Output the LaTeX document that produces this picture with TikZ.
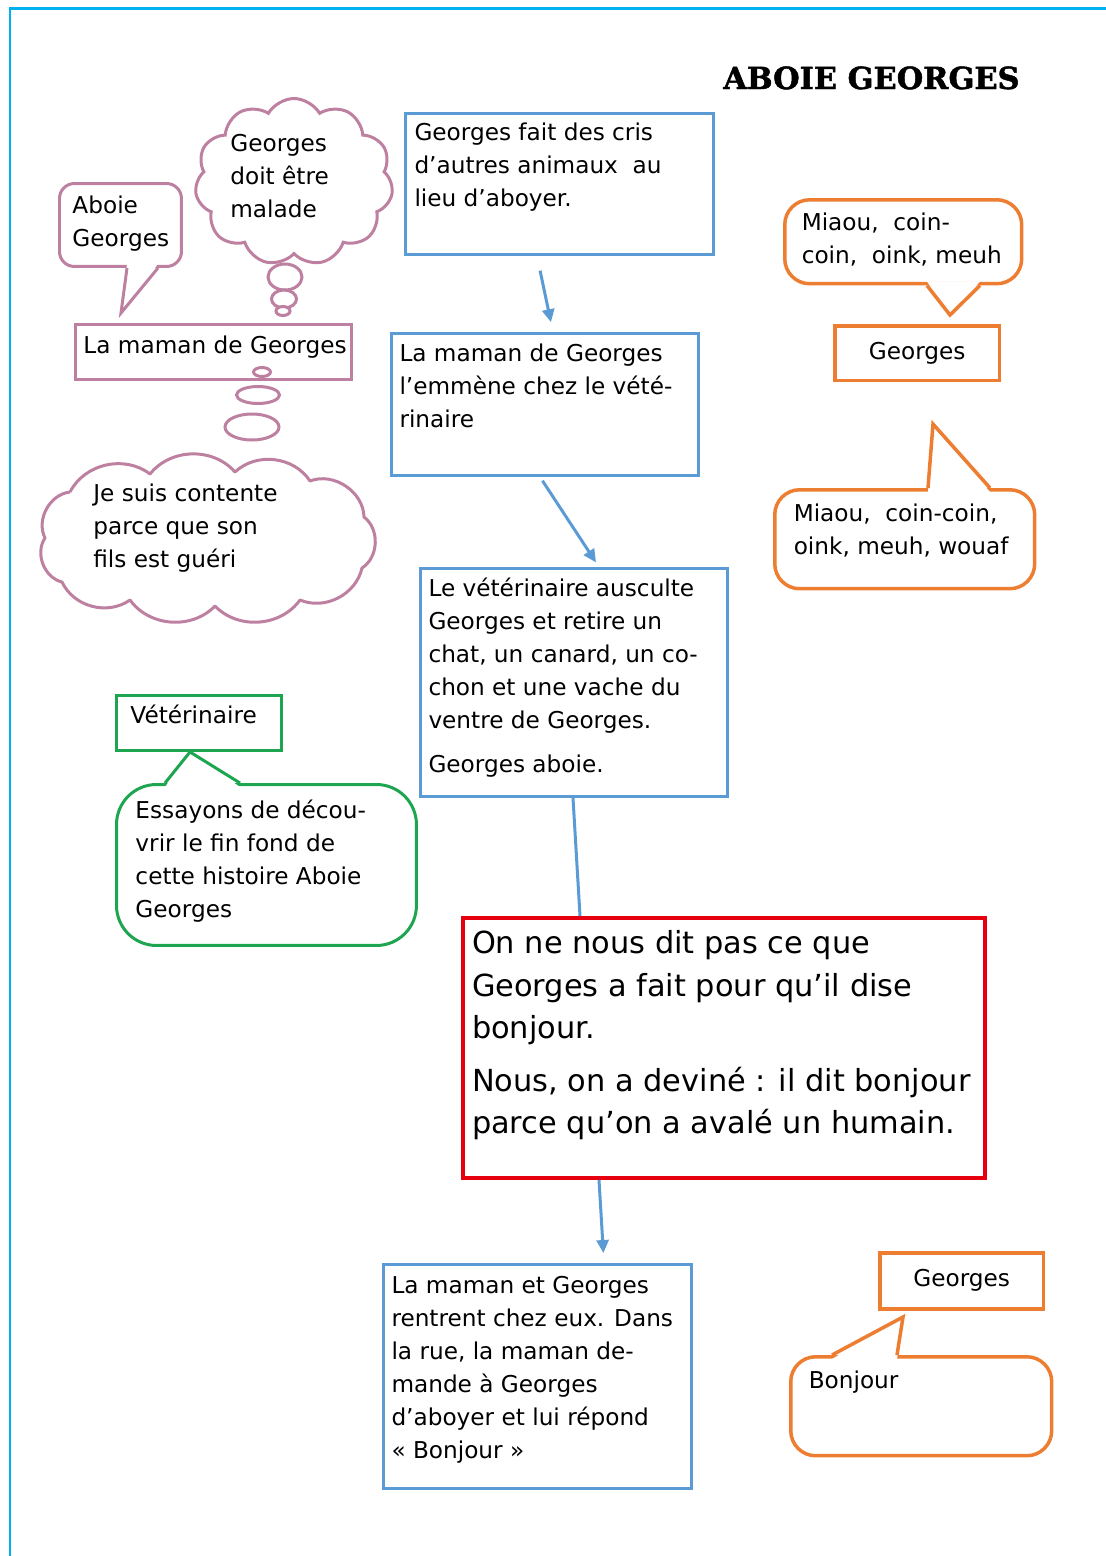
\documentclass[tikz,border=0pt]{standalone}
\usepackage{fontspec}
\setmainfont{DejaVu Sans}
\newfontfamily\titlefont[FakeBold=1.6]{DejaVu Serif Bold}
\usetikzlibrary{arrows.meta,calc,shapes.symbols}

\definecolor{pageframe}{RGB}{0,176,240}
\definecolor{stepblue}{RGB}{91,155,213}
\definecolor{ideared}{RGB}{230,0,15}
\definecolor{mumpink}{RGB}{190,128,160}
\definecolor{vetgreen}{RGB}{30,165,80}
\definecolor{dogorange}{RGB}{237,125,49}

\newcommand{\storysize}{\fontsize{13.2pt}{18.8pt}\selectfont}
\newcommand{\ideasize}{\fontsize{17.3pt}{24.2pt}\selectfont}
% box width, box height, left gap, top gap, lines
\newcommand{\topbox}[5]{\parbox[c][#2][t]{#1}{\vspace*{#4}\hspace*{#3}\begin{tabular}[t]{@{}l@{}}#5\end{tabular}}}

\tikzset{
  panel/.style={anchor=north west, inner sep=0pt, font=\storysize},
  stepbox/.style={panel, draw=stepblue, line width=0.06cm},
  ideabox/.style={panel, draw=ideared, line width=0.08cm, font=\ideasize},
  mumbox/.style={panel, draw=mumpink, line width=0.06cm},
  vetbox/.style={panel, draw=vetgreen, line width=0.06cm},
  dogbox/.style={panel, draw=dogorange, line width=0.07cm},
  dogname/.style={dogbox, minimum width=3.3cm, minimum height=1.1cm},
  mumcloud/.style={cloud, draw=mumpink, line width=0.06cm, cloud ignores aspect, inner sep=0pt},
  mumline/.style={draw=mumpink, line width=0.06cm},
  puff/.style={mumline, fill=white},
  steparrow/.style={draw=stepblue, line width=0.06cm, -{Triangle[length=0.26cm,width=0.24cm]}},
}

\begin{document}
\begin{tikzpicture}[x=0.02cm, y=-0.02cm]
\useasboundingbox (0,0) rectangle (1106,1556);
\draw[pageframe, line width=0.06cm] (10,1600) -- (10,8) -- (1150,8);

\node[anchor=base west, inner sep=0pt, font=\titlefont\fontsize{17.3pt}{20pt}\selectfont] (titre) at (723,89) {ABOIE GEORGES};

% story steps
\node[stepbox] (cris) at (404,112) {\topbox{6.16cm}{2.82cm}{0.18cm}{0.08cm}{Georges fait des cris\\ d’autres animaux~~au\\ lieu d’aboyer.}};
\node[stepbox] (veto) at (390,332) {\topbox{6.14cm}{2.84cm}{0.16cm}{0.1cm}{La maman de Georges\\ l’emmène chez le vété-\\ rinaire}};
\node[stepbox] (ausculte) at (419,567) {\topbox{6.14cm}{4.56cm}{0.16cm}{0.1cm}{Le vétérinaire ausculte\\ Georges et retire un\\ chat, un canard, un co-\\ chon et une vache du\\ ventre de Georges.\\[0.22cm] Georges aboie.}};
\node[ideabox] (idee) at (461,916) {\topbox{10.44cm}{5.2cm}{0.18cm}{0.12cm}{On ne nous dit pas ce que\\ Georges a fait pour qu’il dise\\ bonjour.\\[0.2cm] Nous, on a deviné : il dit bonjour\\ parce qu’on a avalé un humain.}};
\node[stepbox] (retour) at (382,1263) {\topbox{6.16cm}{4.48cm}{0.16cm}{0.12cm}{La maman et Georges\\ rentrent chez eux. Dans\\ la rue, la maman de-\\ mande à Georges\\ d’aboyer et lui répond\\ « Bonjour »}};

\draw[steparrow, shorten <=0.3cm, shorten >=0.2cm] (537,0 |- cris.south) -- (553,0 |- veto.north);
\draw[steparrow, shorten <=0.09cm, shorten >=0.11cm] (540,0 |- veto.south) -- (599,0 |- ausculte.north);
\draw[stepblue, line width=0.06cm] (573,0 |- ausculte.south) -- (580,0 |- idee.north);
\draw[steparrow, shorten >=0.2cm] (599,0 |- idee.south) -- (604,0 |- retour.north);

% the mother
\node[mumbox] (maman) at (74,323) {\topbox{5.52cm}{1.1cm}{0.16cm}{0.12cm}{La maman de Georges}};
\node[mumbox, rounded corners=0.3cm] (aboie) at (58,182) {\topbox{2.44cm}{1.66cm}{0.26cm}{0.14cm}{Aboie\\ Georges}};
\fill[white] ($(127,0 |- aboie.south)+(0,-4)$) -- (121,313) -- ($(158,0 |- aboie.south)+(0,-4)$) -- cycle;
\draw[mumline] (127,0 |- aboie.south) -- (121,313) -- (158,0 |- aboie.south);

\node[mumcloud, cloud puffs=11, cloud puff arc=120, minimum width=3.96cm, minimum height=3.34cm] (malade) at (294,182) {};
\node[panel] (maladetxt) at (230,128) {\begin{tabular}{@{}l@{}}Georges\\ doit être\\ malade\end{tabular}};
\draw[puff] (285,277) ellipse [x radius=0.34cm, y radius=0.26cm];
\draw[puff] (284,299) ellipse [x radius=0.25cm, y radius=0.18cm];
\draw[puff] (283,311) ellipse [x radius=0.14cm, y radius=0.09cm];

% second thought, puffs drawn by hand
\draw[mumline, line join=round] (70,492) to[bend left=50] (150,474) to[bend left=50] (235,472)
  to[bend left=50] (310,481) to[bend left=55] (364,517) to[bend left=55] (362,568)
  to[bend left=50] (300,600) to[bend left=50] (215,606) to[bend left=50] (130,600)
  to[bend left=50] (62,582) to[bend left=55] (45,538) to[bend left=55] (70,492);
\node[panel] (gueritxt) at (93,478) {\begin{tabular}{@{}l@{}}Je suis contente\\ parce que son\\ fils est guéri\end{tabular}};
\draw[puff] (262,372) ellipse [x radius=0.17cm, y radius=0.09cm];
\draw[puff] (258,395) ellipse [x radius=0.43cm, y radius=0.17cm];
\draw[puff] (252,427) ellipse [x radius=0.54cm, y radius=0.26cm];

% the vet
\node[vetbox] (vet) at (115,694) {\topbox{3.3cm}{1.1cm}{0.28cm}{0.1cm}{Vétérinaire}};
\node[vetbox, rounded corners=0.8cm] (enquete) at (115,783) {\topbox{6cm}{3.22cm}{0.38cm}{0.22cm}{Essayons de décou-\\ vrir le fin fond de\\ cette histoire Aboie\\ Georges}};
\fill[white] ($(165,0 |- enquete.north)+(0,4)$) -- (190,0 |- vet.south) -- ($(240,0 |- enquete.north)+(0,4)$) -- cycle;
\draw[vetgreen, line width=0.06cm] (165,0 |- enquete.north) -- (190,0 |- vet.south) -- (240,0 |- enquete.north);

% Georges
\node[dogbox, rounded corners=0.5cm] (miaou) at (783,198) {\topbox{4.74cm}{1.68cm}{0.34cm}{0.16cm}{Miaou,~~coin-\\ coin,~~oink, meuh}};
\node[dogname] (georges) at (833,324) {Georges};
\fill[white] ($(927,0 |- miaou.south)+(0,-4)$) -- (950,315) -- ($(980,0 |- miaou.south)+(0,-4)$) -- cycle;
\draw[dogorange, line width=0.07cm] (927,0 |- miaou.south) -- (950,315) -- (980,0 |- miaou.south);

\node[dogbox, rounded corners=0.5cm] (wouaf) at (773,488) {\topbox{5.2cm}{1.98cm}{0.38cm}{0.18cm}{Miaou,~~coin-coin,\\ oink, meuh, wouaf}};
\fill[white] ($(928,0 |- wouaf.north)+(0,4)$) -- (933,424) -- ($(990,0 |- wouaf.north)+(0,4)$) -- cycle;
\draw[dogorange, line width=0.07cm] (928,0 |- wouaf.north) -- (933,424) -- (990,0 |- wouaf.north);

\node[dogname, minimum width=3.28cm, minimum height=1.12cm] (georgesbis) at (878,1251) {Georges};
\node[dogbox, rounded corners=0.5cm] (bonjour) at (789,1355) {\topbox{5.22cm}{1.98cm}{0.36cm}{0.18cm}{Bonjour}};
\fill[white] ($(832,0 |- bonjour.north)+(0,4)$) -- (903,1317) -- ($(897,0 |- bonjour.north)+(0,4)$) -- cycle;
\draw[dogorange, line width=0.07cm] (832,0 |- bonjour.north) -- (903,1317) -- (897,0 |- bonjour.north);
\end{tikzpicture}
\end{document}
